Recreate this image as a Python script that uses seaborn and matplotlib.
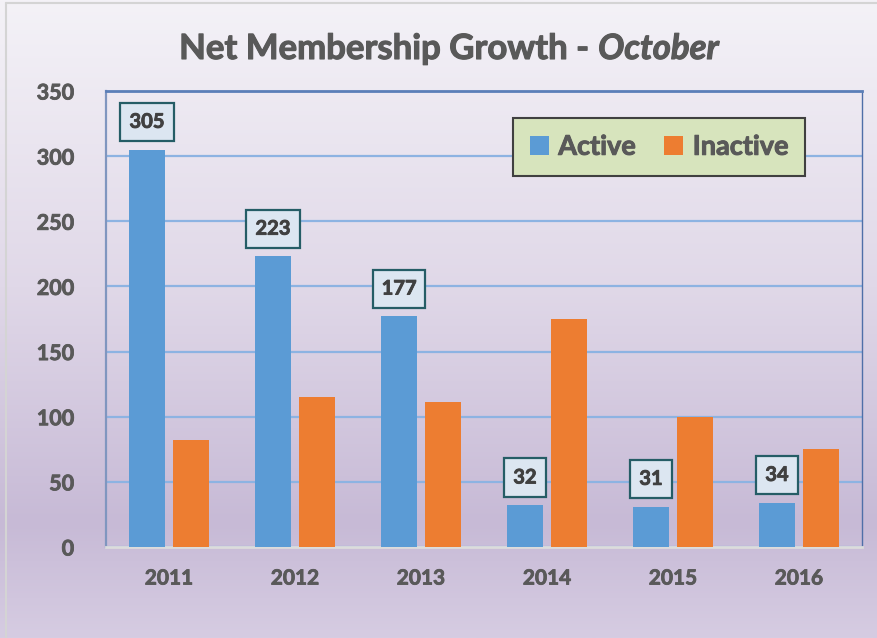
import numpy as np
import pandas as pd
import matplotlib
matplotlib.use("Agg")
import matplotlib.pyplot as plt
import matplotlib.patheffects as pe
import seaborn as sns
from matplotlib.colors import LinearSegmentedColormap
from matplotlib.lines import Line2D
from matplotlib.patches import Patch

years = ["2011", "2012", "2013", "2014", "2015", "2016"]
active = [305, 223, 177, 32, 31, 34]
inactive = [82, 115, 111, 175, 100, 75]
series_names = ["Active", "Inactive"]
series_colors = ["#5b9bd5", "#ed7d31"]
yticks = [0, 50, 100, 150, 200, 250, 300, 350]

df = pd.DataFrame({
    "Year": years * 2,
    "Series": [series_names[0]] * len(years) + [series_names[1]] * len(years),
    "Value": active + inactive,
})

sns.set_theme(style="white")
plt.rcParams["font.family"] = ["Lato", "DejaVu Sans"]
WEIGHT = "bold"


def thick(color, lw=0.6):
    return [pe.withStroke(linewidth=lw, foreground=color)]


W, H = 877, 638
fig = plt.figure(figsize=(W / 100, H / 100), dpi=100)

# background gradient
bg = fig.add_axes([0, 0, 1, 1], zorder=-10)
cmap = LinearSegmentedColormap.from_list(
    "bg", [(0.0, "#f4f2f7"), (0.45, "#e0d8e8"), (0.82, "#c7bad6"), (1.0, "#d6cce2")])
grad = np.linspace(0, 1, 256).reshape(-1, 1)
bg.imshow(grad, aspect="auto", cmap=cmap, extent=[0, 1, 0, 1], origin="upper")
bg.set_xlim(0, 1)
bg.set_ylim(0, 1)
bg.axis("off")
# light outer border (left & top)
bg.add_line(Line2D([6 / W, 6 / W], [0, 1 - 3 / H], color="#d4d4d4", lw=1.5))
bg.add_line(Line2D([6 / W, 1], [1 - 3 / H, 1 - 3 / H], color="#d4d4d4", lw=1.5))

ax = fig.add_axes([106 / W, 1 - 547 / H, (862 - 106) / W, (547 - 91) / H])
ax.patch.set_alpha(0)

sns.barplot(data=df, x="Year", y="Value", hue="Series", order=years,
            hue_order=series_names, palette=series_colors, width=0.7, gap=0.18,
            saturation=1, ax=ax, legend=False, edgecolor="none", zorder=3)

ax.set_xlim(-0.5, 5.5)
ax.set_ylim(0, 350)
ax.set_yticks(yticks)
ax.yaxis.grid(True, color="#8db3e2", lw=1.6, zorder=0)
ax.set_axisbelow(True)
ax.set_xlabel("")
ax.set_ylabel("")

for side in ["left", "right", "top", "bottom"]:
    ax.spines[side].set_visible(True)
ax.spines["left"].set_color("#8096bf")
ax.spines["left"].set_linewidth(1.6)
ax.spines["right"].set_color("#4f6fa8")
ax.spines["right"].set_linewidth(1.0)
ax.spines["top"].set_color("#5b7fb8")
ax.spines["top"].set_linewidth(2.0)
ax.spines["bottom"].set_color("#dcdcdc")
ax.spines["bottom"].set_linewidth(2.0)

ax.tick_params(axis="y", length=0, pad=23, labelsize=15.5, labelcolor="#595959")
ax.tick_params(axis="x", length=0, pad=15.5, labelsize=15, labelcolor="#595959")
for lab in ax.get_yticklabels() + ax.get_xticklabels():
    lab.set_fontweight(WEIGHT)
    lab.set_path_effects(thick("#595959"))

# data labels for Active series
for i, v in enumerate(active):
    ax.annotate(str(v), xy=(i - 0.175, v), xytext=(0, 20), textcoords="offset points",
                ha="center", va="center", fontsize=14.5, fontweight=WEIGHT, color="#404040",
                bbox=dict(boxstyle="square,pad=0.45", fc="#dce6f1", ec="#255d66", lw=1.6),
                path_effects=thick("#404040"), zorder=5)

# legend
handles = [Patch(facecolor=c, edgecolor="none") for c in series_colors]
leg = ax.legend(handles, series_names, loc="upper left",
                bbox_to_anchor=((513 - 106) / (862 - 106), 1 - (118 - 91) / (547 - 91)),
                ncol=2, frameon=True, fancybox=False, fontsize=19.5,
                handlelength=0.7, handleheight=0.7, handletextpad=0.35,
                columnspacing=1.05, borderpad=0.62, borderaxespad=0)
leg.get_frame().set_facecolor("#d7e4bd")
leg.get_frame().set_edgecolor("#404040")
leg.get_frame().set_linewidth(1.5)
leg.get_frame().set_alpha(1)
for t in leg.get_texts():
    t.set_fontweight(WEIGHT)
    t.set_color("#595959")
    t.set_path_effects(thick("#595959", 0.7))

# title: bold part + bold italic "October"
fig.canvas.draw()
r = fig.canvas.get_renderer()
t1 = fig.text(0, 1 - 49 / H, "Net Membership Growth - ", fontsize=25, fontweight=WEIGHT,
              color="#595959", ha="left", va="center", path_effects=thick("#595959", 0.8))
t2 = fig.text(0, 1 - 49 / H, "October", fontsize=25, fontweight=WEIGHT, style="italic",
              color="#595959", ha="left", va="center", path_effects=thick("#595959", 0.8))
w1 = t1.get_window_extent(r).width
w2 = t2.get_window_extent(r).width
cx = 449
x0 = cx - (w1 + w2) / 2
t1.set_x(x0 / W)
t2.set_x((x0 + w1) / W)

fig.savefig("out.png", dpi=100)
